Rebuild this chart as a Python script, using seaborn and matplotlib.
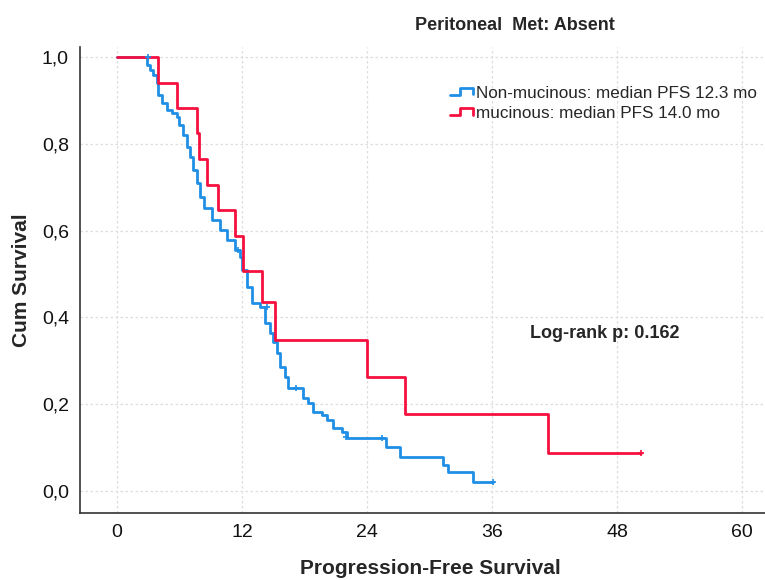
import numpy as np
import pandas as pd
import seaborn as sns
import matplotlib
matplotlib.use("Agg")
import matplotlib.pyplot as plt
from matplotlib.lines import Line2D
from matplotlib.legend_handler import HandlerBase

# Kaplan-Meier step values (time in months, cum survival)
blue_t = [0, 2.9, 3.2, 3.5, 3.8, 3.9, 4.3, 4.8, 5.3, 5.8, 6.0, 6.3, 6.7, 7.0, 7.3, 7.7,
          8.0, 8.4, 9.1, 9.9, 10.6, 11.3, 11.8, 12.0, 12.5, 13.0, 13.7, 14.2, 14.7, 15.0,
          15.4, 15.6, 16.1, 16.4, 17.9, 18.3, 18.8, 19.7, 20.2, 20.7, 21.6, 22.1, 25.8,
          27.2, 31.3, 31.8, 34.2, 36.1]
blue_s = [1.0, 0.982, 0.970, 0.959, 0.940, 0.912, 0.894, 0.878, 0.871, 0.862, 0.843, 0.820,
          0.793, 0.770, 0.740, 0.710, 0.677, 0.652, 0.624, 0.601, 0.578, 0.555, 0.539, 0.509,
          0.470, 0.433, 0.424, 0.387, 0.364, 0.343, 0.318, 0.286, 0.263, 0.237, 0.214, 0.203,
          0.182, 0.175, 0.164, 0.145, 0.136, 0.122, 0.101, 0.078, 0.060, 0.044, 0.021, 0.021]
red_t = [0, 3.9, 5.8, 7.7, 7.9, 8.6, 9.7, 11.3, 12.1, 13.9, 15.2, 24.0, 27.6, 41.4, 50.3]
red_s = [1.0, 0.941, 0.882, 0.824, 0.765, 0.706, 0.647, 0.588, 0.507, 0.435, 0.348, 0.263,
         0.177, 0.088, 0.088]

blue_cens_t = [3.0, 11.6, 14.4, 17.2, 22.0, 25.4, 36.1]
blue_cens_s = [1.0, 0.555, 0.424, 0.237, 0.124, 0.122, 0.021]
red_cens_t = [50.3]
red_cens_s = [0.088]

groups = ["Non-mucinous: median PFS 12.3 mo", "mucinous: median PFS 14.0 mo"]
colors = ["#1f8fe6", "#f5103f"]
x_ticks = [0, 12, 24, 36, 48, 60]
y_ticks = [0.0, 0.2, 0.4, 0.6, 0.8, 1.0]
y_tick_labels = ["0,0", "0,2", "0,4", "0,6", "0,8", "1,0"]

df = pd.concat([
    pd.DataFrame({"time": blue_t, "surv": blue_s, "group": groups[0]}),
    pd.DataFrame({"time": red_t, "surv": red_s, "group": groups[1]}),
])

sns.set_style("white")
plt.rcParams["font.family"] = ["Liberation Sans", "DejaVu Sans"]

fig = plt.figure(figsize=(7.65, 5.8), dpi=100)
ax = fig.add_axes([80 / 765, 67 / 580, 1 - 80 / 765, (513 - 47) / 580])

sns.lineplot(data=df, x="time", y="surv", hue="group", palette=colors,
             drawstyle="steps-post", estimator=None, sort=False, linewidth=2.0,
             legend=False, ax=ax)
ax.plot(blue_cens_t, blue_cens_s, "+", color=colors[0], markersize=5, mew=1.2)
ax.plot(red_cens_t, red_cens_s, "+", color=colors[1], markersize=5, mew=1.2)

ax.set_xlim(-3.55, 62.2)
ax.set_ylim(-0.0507, 1.023)
ax.set_xticks(x_ticks)
ax.set_yticks(y_ticks)
ax.set_yticklabels(y_tick_labels)
ax.tick_params(length=0, labelsize=14, pad=8, colors="#111111")
ax.grid(True, linestyle=(0, (2, 2)), color="#dddddd", linewidth=0.9)
for side in ["top", "right"]:
    ax.spines[side].set_visible(False)
for side in ["left", "bottom"]:
    ax.spines[side].set_color("#333333")
    ax.spines[side].set_linewidth(1.2)
ax.set_xlabel("")
ax.set_ylabel("")

fig.text(22 / 765, 1 - 280 / 580, "Cum Survival", rotation=90, ha="center", va="center",
         fontsize=15, fontweight="bold")
fig.text(430 / 765, 1 - 568 / 580, "Progression-Free Survival", ha="center", va="center",
         fontsize=15, fontweight="bold")
fig.text(515 / 765, 1 - 25 / 580, "Peritoneal  Met: Absent", ha="center", va="center",
         fontsize=13, fontweight="bold")
ax.text(39.6, 0.364, "Log-rank p: 0.162", ha="left", va="center", fontsize=13,
        fontweight="bold")


class StepHandler(HandlerBase):
    def create_artists(self, legend, orig_handle, xdescent, ydescent, width, height,
                       fontsize, trans):
        x0 = -xdescent
        y0 = -ydescent
        xs = [x0, x0 + 0.4 * width, x0 + 0.4 * width, x0 + 0.95 * width, x0 + 0.95 * width]
        ys = [y0 + 0.25 * height, y0 + 0.25 * height, y0 + 0.85 * height,
              y0 + 0.85 * height, y0 + 0.3 * height]
        line = Line2D(xs, ys, color=orig_handle.get_color(), linewidth=2.0,
                      transform=trans)
        return [line]


handles = [Line2D([], [], color=c) for c in colors]
fig.legend(handles, groups, loc="upper left", bbox_to_anchor=(450 / 765, 1 - 86 / 580),
           frameon=False, fontsize=12.3, borderpad=0, borderaxespad=0, labelspacing=0.3,
           handlelength=1.4, handletextpad=0.15,
           handler_map={Line2D: StepHandler()})

fig.savefig("out.png", dpi=100)
